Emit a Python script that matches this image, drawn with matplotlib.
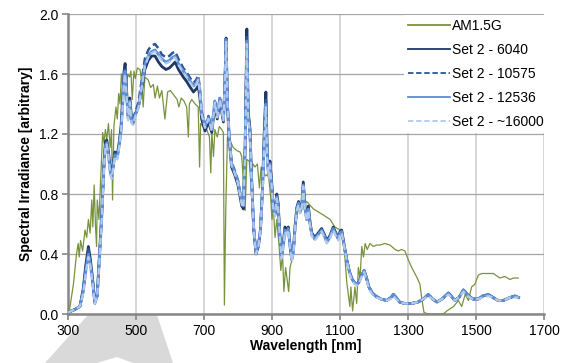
import numpy as np
import matplotlib
matplotlib.use('Agg')
import matplotlib.pyplot as plt
from matplotlib.patches import Polygon

plt.rcParams['font.family'] = ['Liberation Sans', 'DejaVu Sans']

# AM1.5G reference spectrum
wl_am = [304, 316, 325, 330, 333, 337, 343, 350, 355, 360,
         365, 370, 373, 377, 381, 384, 386, 391, 396, 402,
         406, 410, 414, 419, 424, 428, 431, 435, 441, 445,
         449, 453, 457, 461, 466, 471, 476, 481, 485, 489,
         494, 498, 504, 512, 517, 521, 526, 536, 543, 551,
         556, 563, 569, 576, 585, 593, 601, 611, 621, 626,
         633, 641, 649, 654, 657, 664, 674, 683, 687, 690,
         698, 708, 716, 720, 723, 728, 732, 739, 745, 752,
         757, 760, 764, 769, 776, 786, 796, 806, 811, 821,
         826, 833, 838, 844, 850, 857, 863, 868, 874, 882,
         889, 896, 900, 904, 909, 914, 921, 926, 931, 935,
         940, 945, 949, 953, 961, 968, 978, 985, 993, 1002,
         1022, 1051, 1071, 1085, 1100, 1110, 1115, 1120, 1125, 1129,
         1132, 1137, 1144, 1149, 1154, 1159, 1164, 1169, 1174, 1180,
         1188, 1198, 1208, 1218, 1232, 1247, 1262, 1271, 1281, 1291,
         1301, 1311, 1320, 1327, 1335, 1340, 1347, 1360, 1380, 1404,
         1414, 1434, 1448, 1458, 1468, 1478, 1487, 1497, 1507, 1517,
         1531, 1551, 1570, 1585, 1600, 1610, 1624]
am15g = [0.02, 0.20, 0.40, 0.47, 0.38, 0.49, 0.42, 0.56, 0.51, 0.63,
         0.54, 0.76, 0.58, 0.86, 0.58, 0.45, 0.76, 0.63, 0.89, 1.21,
         1.14, 1.23, 1.16, 1.27, 1.11, 1.23, 0.76, 1.25, 1.38, 1.30,
         1.47, 1.40, 1.60, 1.51, 1.63, 1.51, 1.60, 1.58, 1.62, 1.43,
         1.62, 1.57, 1.64, 1.63, 1.54, 1.38, 1.58, 1.56, 1.51, 1.53,
         1.44, 1.52, 1.44, 1.49, 1.30, 1.48, 1.49, 1.46, 1.43, 1.38,
         1.44, 1.42, 1.38, 1.18, 1.40, 1.43, 1.40, 1.38, 0.98, 1.27,
         1.25, 1.23, 1.18, 0.94, 1.21, 1.05, 1.23, 1.18, 1.25, 1.23,
         1.21, 0.06, 0.69, 1.18, 1.16, 1.11, 1.09, 1.08, 1.05, 0.69,
         1.03, 1.02, 0.87, 1.00, 0.98, 1.00, 0.84, 0.98, 0.94, 0.92,
         0.94, 0.78, 0.63, 0.71, 0.51, 0.63, 0.45, 0.29, 0.40, 0.15,
         0.31, 0.22, 0.15, 0.31, 0.38, 0.58, 0.71, 0.69, 0.73, 0.75,
         0.70, 0.66, 0.63, 0.58, 0.56, 0.49, 0.36, 0.21, 0.12, 0.05,
         0.18, 0.02, 0.18, 0.07, 0.31, 0.24, 0.45, 0.38, 0.47, 0.43,
         0.47, 0.45, 0.46, 0.46, 0.47, 0.46, 0.43, 0.42, 0.43, 0.42,
         0.36, 0.31, 0.27, 0.24, 0.20, 0.11, 0.01, 0.00, 0.00, 0.00,
         0.02, 0.05, 0.09, 0.05, 0.13, 0.09, 0.18, 0.20, 0.26, 0.27,
         0.27, 0.27, 0.24, 0.25, 0.23, 0.24, 0.24]

# Set 2 spectra
wl_set = [300, 320, 335, 345, 352, 360, 366, 372, 379, 386,
          392, 399, 405, 410, 414, 419, 424, 428, 433, 438,
          445, 451, 456, 461, 465, 468, 472, 477, 482, 487,
          492, 497, 507, 517, 526, 536, 546, 556, 566, 576,
          588, 598, 607, 615, 625, 639, 649, 660, 669, 677,
          683, 688, 693, 703, 713, 723, 732, 739, 747, 757,
          761, 765, 769, 774, 781, 790, 800, 811, 816, 821,
          826, 830, 835, 840, 846, 853, 860, 866, 872, 877,
          882, 886, 890, 894, 899, 904, 909, 914, 918, 923,
          928, 933, 938, 943, 948, 953, 958, 963, 968, 973,
          978, 983, 988, 992, 997, 1002, 1007, 1012, 1017, 1026,
          1036, 1046, 1054, 1061, 1070, 1080, 1088, 1095, 1100, 1105,
          1112, 1120, 1128, 1134, 1142, 1149, 1155, 1162, 1171, 1178,
          1185, 1195, 1205, 1220, 1237, 1250, 1257, 1265, 1275, 1290,
          1310, 1330, 1345, 1360, 1372, 1385, 1400, 1419, 1438, 1450,
          1463, 1475, 1490, 1507, 1520, 1536, 1550, 1565, 1580, 1600,
          1615, 1625]

set_6040 = [0.01, 0.03, 0.05, 0.17, 0.32, 0.45, 0.36, 0.24, 0.08, 0.13,
            0.37, 0.66, 0.97, 1.15, 1.16, 1.08, 0.97, 0.92, 1.00, 1.08,
            1.06, 1.15, 1.25, 1.45, 1.62, 1.67, 1.50, 1.32, 1.44, 1.30,
            1.28, 1.33, 1.38, 1.50, 1.63, 1.69, 1.72, 1.72, 1.68, 1.65,
            1.63, 1.64, 1.66, 1.68, 1.63, 1.58, 1.55, 1.51, 1.48, 1.50,
            1.52, 1.44, 1.30, 1.22, 1.28, 1.21, 1.40, 1.30, 1.42, 1.28,
            1.50, 1.84, 1.38, 1.17, 0.98, 0.93, 0.86, 0.72, 0.70, 1.12,
            1.90, 1.35, 1.24, 0.90, 0.57, 0.40, 0.45, 0.56, 0.84, 1.20,
            1.48, 1.08, 0.93, 1.02, 0.88, 0.71, 0.67, 0.80, 0.74, 0.53,
            0.39, 0.47, 0.58, 0.56, 0.58, 0.46, 0.37, 0.43, 0.59, 0.71,
            0.75, 0.69, 0.74, 0.88, 0.72, 0.64, 0.72, 0.61, 0.54, 0.51,
            0.54, 0.57, 0.53, 0.49, 0.52, 0.58, 0.54, 0.51, 0.55, 0.56,
            0.46, 0.36, 0.28, 0.24, 0.21, 0.20, 0.21, 0.25, 0.29, 0.24,
            0.18, 0.14, 0.12, 0.10, 0.09, 0.11, 0.13, 0.11, 0.08, 0.07,
            0.07, 0.08, 0.10, 0.13, 0.10, 0.08, 0.10, 0.14, 0.09, 0.11,
            0.16, 0.13, 0.10, 0.10, 0.12, 0.13, 0.11, 0.09, 0.09, 0.11,
            0.12, 0.11]

set_10575 = [0.01, 0.03, 0.05, 0.16, 0.30, 0.43, 0.35, 0.23, 0.08, 0.12,
             0.36, 0.64, 0.96, 1.13, 1.15, 1.07, 0.96, 0.92, 0.99, 1.07,
             1.05, 1.14, 1.23, 1.42, 1.60, 1.64, 1.48, 1.31, 1.43, 1.29,
             1.28, 1.34, 1.41, 1.56, 1.70, 1.76, 1.79, 1.80, 1.77, 1.73,
             1.71, 1.72, 1.74, 1.75, 1.70, 1.64, 1.61, 1.57, 1.54, 1.56,
             1.59, 1.50, 1.35, 1.26, 1.32, 1.24, 1.43, 1.33, 1.45, 1.31,
             1.51, 1.84, 1.40, 1.20, 1.01, 0.96, 0.89, 0.75, 0.73, 1.11,
             1.86, 1.33, 1.23, 0.90, 0.58, 0.41, 0.46, 0.56, 0.83, 1.17,
             1.44, 1.06, 0.92, 1.01, 0.87, 0.70, 0.66, 0.79, 0.73, 0.52,
             0.38, 0.45, 0.56, 0.54, 0.57, 0.45, 0.36, 0.42, 0.58, 0.70,
             0.74, 0.68, 0.72, 0.86, 0.70, 0.63, 0.70, 0.60, 0.53, 0.50,
             0.53, 0.56, 0.52, 0.48, 0.51, 0.57, 0.53, 0.50, 0.54, 0.55,
             0.46, 0.36, 0.28, 0.24, 0.21, 0.20, 0.21, 0.25, 0.29, 0.24,
             0.18, 0.14, 0.12, 0.10, 0.09, 0.11, 0.13, 0.11, 0.08, 0.07,
             0.07, 0.08, 0.10, 0.13, 0.10, 0.08, 0.10, 0.14, 0.09, 0.11,
             0.16, 0.13, 0.10, 0.10, 0.12, 0.13, 0.11, 0.09, 0.09, 0.11,
             0.12, 0.11]

set_12536 = [0.01, 0.03, 0.05, 0.15, 0.28, 0.40, 0.33, 0.22, 0.07, 0.12,
             0.35, 0.63, 0.95, 1.12, 1.14, 1.06, 0.95, 0.91, 0.98, 1.06,
             1.04, 1.13, 1.22, 1.40, 1.58, 1.62, 1.47, 1.30, 1.42, 1.28,
             1.27, 1.32, 1.38, 1.52, 1.66, 1.72, 1.75, 1.76, 1.73, 1.70,
             1.68, 1.69, 1.71, 1.72, 1.67, 1.62, 1.59, 1.55, 1.52, 1.54,
             1.57, 1.48, 1.34, 1.25, 1.31, 1.23, 1.42, 1.32, 1.44, 1.30,
             1.50, 1.83, 1.40, 1.20, 1.00, 0.95, 0.88, 0.74, 0.72, 1.10,
             1.82, 1.32, 1.22, 0.90, 0.58, 0.41, 0.46, 0.56, 0.82, 1.15,
             1.40, 1.05, 0.92, 1.00, 0.86, 0.70, 0.66, 0.78, 0.72, 0.52,
             0.38, 0.45, 0.56, 0.54, 0.57, 0.45, 0.36, 0.42, 0.58, 0.70,
             0.74, 0.68, 0.72, 0.86, 0.70, 0.63, 0.70, 0.60, 0.53, 0.50,
             0.53, 0.56, 0.52, 0.48, 0.51, 0.57, 0.53, 0.50, 0.54, 0.55,
             0.46, 0.36, 0.28, 0.24, 0.21, 0.20, 0.21, 0.25, 0.29, 0.24,
             0.18, 0.14, 0.12, 0.10, 0.09, 0.11, 0.13, 0.11, 0.08, 0.07,
             0.07, 0.08, 0.10, 0.13, 0.10, 0.08, 0.10, 0.14, 0.09, 0.11,
             0.16, 0.13, 0.10, 0.10, 0.12, 0.13, 0.11, 0.09, 0.09, 0.11,
             0.12, 0.11]

set_16000 = [0.01, 0.03, 0.05, 0.14, 0.27, 0.38, 0.32, 0.21, 0.07, 0.12,
             0.34, 0.62, 0.94, 1.11, 1.13, 1.05, 0.94, 0.90, 0.97, 1.05,
             1.03, 1.12, 1.21, 1.38, 1.56, 1.60, 1.46, 1.29, 1.41, 1.27,
             1.26, 1.31, 1.37, 1.51, 1.65, 1.71, 1.74, 1.75, 1.72, 1.69,
             1.67, 1.68, 1.70, 1.71, 1.66, 1.61, 1.58, 1.54, 1.51, 1.53,
             1.56, 1.47, 1.33, 1.24, 1.30, 1.22, 1.41, 1.31, 1.43, 1.29,
             1.49, 1.82, 1.39, 1.19, 0.99, 0.94, 0.87, 0.73, 0.71, 1.08,
             1.80, 1.30, 1.21, 0.89, 0.57, 0.40, 0.45, 0.55, 0.81, 1.13,
             1.38, 1.04, 0.91, 0.99, 0.85, 0.69, 0.65, 0.77, 0.71, 0.51,
             0.37, 0.44, 0.55, 0.53, 0.56, 0.44, 0.35, 0.41, 0.57, 0.69,
             0.73, 0.67, 0.71, 0.85, 0.69, 0.62, 0.69, 0.59, 0.52, 0.49,
             0.52, 0.55, 0.51, 0.47, 0.50, 0.56, 0.52, 0.49, 0.53, 0.54,
             0.45, 0.35, 0.27, 0.23, 0.20, 0.19, 0.20, 0.24, 0.28, 0.23,
             0.17, 0.13, 0.11, 0.10, 0.09, 0.10, 0.12, 0.10, 0.08, 0.07,
             0.07, 0.08, 0.10, 0.12, 0.10, 0.08, 0.10, 0.13, 0.09, 0.11,
             0.15, 0.12, 0.10, 0.10, 0.11, 0.12, 0.11, 0.09, 0.09, 0.11,
             0.11, 0.11]

fig = plt.figure(figsize=(5.66, 3.63), dpi=100)

# grey watermark chevron (pixel coords of the original image)
wm = [(45, 363), (88, 315), (157, 315), (173, 363), (133, 363), (117, 357), (97, 363)]
wm = [(x / 566, 1 - y / 363) for x, y in wm]
fig.patches.append(Polygon(wm, closed=True, transform=fig.transFigure,
                           facecolor='#d9d9d9', edgecolor='none', zorder=-5))

ax = fig.add_axes([68 / 566, 49 / 363, 476 / 566, 300 / 363])
ax.set_facecolor('white')

ax.plot(wl_am, am15g, color='#77933c', lw=0.9, label='AM1.5G', zorder=3)
ax.plot(wl_set, set_6040, color='#1f3864', lw=2.0, label='Set 2 - 6040', zorder=4)
ax.plot(wl_set, set_10575, color='#2e5597', lw=1.8, ls=(0, (3, 1.5)), label='Set 2 - 10575', zorder=5)
ax.plot(wl_set, set_12536, color='#5b8fd6', lw=2.0, label='Set 2 - 12536', zorder=6)
ax.plot(wl_set, set_16000, color='#b4c9ea', lw=1.6, ls=(0, (3, 1.5)), label='Set 2 - ~16000', zorder=7)

ax.set_xlim(300, 1700)
ax.set_ylim(0, 2.0)
ax.set_xticks(np.arange(300, 1701, 200))
ax.set_yticks(np.arange(0, 2.01, 0.4))
ax.set_yticklabels(['%.1f' % v for v in np.arange(0, 2.01, 0.4)])

ax.grid(axis='x', color='#d4d4d4', lw=1.3, zorder=1)
ax.grid(axis='y', color='#a6a6a6', lw=0.9, zorder=1)
ax.set_axisbelow(True)

for s in ['top', 'right']:
    ax.spines[s].set_visible(False)
for s in ['left', 'bottom']:
    ax.spines[s].set_color('#868686')
    ax.spines[s].set_linewidth(1.8)
ax.tick_params(axis='both', colors='#868686', length=4, width=1.2,
               labelsize=10, labelcolor='black', pad=3)

ax.set_xlabel('Wavelength [nm]', fontsize=10, fontweight='bold', labelpad=1)
ax.set_ylabel('Spectral Irradiance [arbitrary]', fontsize=10, fontweight='bold', labelpad=4)

leg = ax.legend(loc='upper left', bbox_to_anchor=(404 / 566, 1 - 15 / 363),
                bbox_transform=fig.transFigure, frameon=True, fancybox=False,
                edgecolor='none', facecolor='white', framealpha=1.0,
                fontsize=10, handlelength=3.0, handletextpad=0.15,
                labelspacing=0.72, borderpad=0.3, borderaxespad=0)
leg.set_zorder(10)
for ln in leg.get_lines():
    ln.set_linewidth(1.3)

fig.savefig('out.png', dpi=100)
